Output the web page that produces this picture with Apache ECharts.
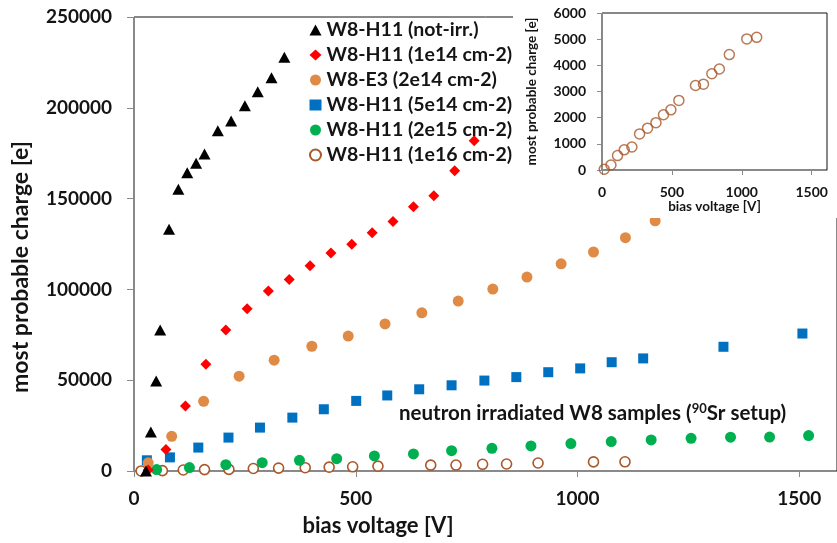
<!DOCTYPE html>
<html>
<head>
<meta charset="utf-8">
<script src="https://cdn.jsdelivr.net/npm/echarts@6/dist/echarts.min.js"></script>
<style>html,body{margin:0;padding:0;background:#fff}#c{width:837px;height:543px}</style>
</head>
<body>
<div id="c"></div>
<script>
// ---- data (bias voltage [V], most probable charge [e]) ----
const seriesNames = ['W8-H11 (not-irr.)','W8-H11 (1e14 cm-2)','W8-E3 (2e14 cm-2)','W8-H11 (5e14 cm-2)','W8-H11 (2e15 cm-2)','W8-H11 (1e16 cm-2)'];

const notIrrX = [27, 38, 50, 59, 79, 100, 120, 140, 159, 189, 219, 250, 279, 310, 339];
const notIrrY = [0, 21500, 49600, 77600, 133100, 155100, 164300, 169500, 174600, 187300, 192800, 201100, 208900, 216500, 227900];

const h1e14X = [32, 72, 116, 162, 207, 255, 303, 350, 397, 444, 491, 537, 584, 630, 676, 723, 767];
const h1e14Y = [500, 11800, 35800, 58800, 77600, 89300, 99100, 105500, 113000, 120000, 124800, 131200, 137400, 145500, 151600, 165400, 181900];

const e3X = [32, 85, 157, 237, 316, 401, 483, 566, 649, 731, 809, 886, 963, 1036, 1108, 1175];
const e3Y = [4500, 19100, 38400, 52200, 61000, 68700, 74300, 81000, 87100, 93600, 100200, 106800, 114100, 120600, 128500, 137800];

const h5e14X = [29, 81, 145, 213, 284, 357, 428, 501, 571, 643, 716, 790, 862, 934, 1006, 1077, 1148, 1329, 1507];
const h5e14Y = [5900, 7500, 12900, 18400, 23900, 29400, 34000, 38600, 41600, 45000, 47200, 49800, 51700, 54400, 56500, 59900, 62000, 68400, 75700];

const h2e15X = [51, 125, 207, 289, 373, 457, 542, 630, 716, 807, 895, 985, 1076, 1166, 1256, 1345, 1433, 1521];
const h2e15Y = [800, 1900, 3500, 4600, 5900, 6800, 8300, 9400, 11200, 12500, 13800, 15100, 16200, 17100, 18000, 18600, 18700, 19500];

const h1e16X = [16, 64, 111, 159, 214, 269, 326, 386, 440, 493, 550, 669, 726, 786, 840, 911, 1036, 1107];
const h1e16Y = [30, 190, 550, 770, 880, 1380, 1600, 1810, 2110, 2300, 2660, 3230, 3280, 3680, 3860, 4410, 5010, 5070];

const mainXTicks = [0, 500, 1000, 1500];
const mainYTicks = [0, 50000, 100000, 150000, 200000, 250000];
const insetXTicks = [0, 500, 1000, 1500];
const insetYTicks = [0, 1000, 2000, 3000, 4000, 5000, 6000];

const xTitle = 'bias voltage [V]';
const yTitle = 'most probable charge [e]';
const annotationMain = 'neutron irradiated W8 samples (';
const annotationSup = '90';
const annotationEnd = 'Sr setup)';

// ---- styling ----
const FONT = 'Lato';
const TXT = '#141414';
const AX = '#8a8a8a';
const colors = ['#000000', '#ff0000', '#df8a45', '#0070c0', '#00b050', '#a8582a'];

function zip(xs, ys) { return xs.map((x, i) => [x, ys[i]]); }

const chart = echarts.init(document.getElementById('c'), null, {renderer: 'canvas'});

const markerDefs = [
  {symbol: 'triangle', size: [12, 11], legend: 'triangle'},
  {symbol: 'diamond', size: 11, legend: 'diamond'},
  {symbol: 'circle', size: 11, legend: 'circle'},
  {symbol: 'rect', size: 10, legend: 'rect'},
  {symbol: 'circle', size: 11, legend: 'circle'},
  {symbol: 'circle', size: 10, legend: 'circle'}
];
const dataSets = [zip(notIrrX, notIrrY), zip(h1e14X, h1e14Y), zip(e3X, e3Y), zip(h5e14X, h5e14Y), zip(h2e15X, h2e15Y), zip(h1e16X, h1e16Y)];

const series = seriesNames.map((name, i) => {
  const hollow = i === 5;
  return {
    name: name,
    type: 'scatter',
    xAxisIndex: 0, yAxisIndex: 0,
    symbol: markerDefs[i].symbol,
    symbolSize: markerDefs[i].size,
    data: dataSets[i],
    z: 2 + (5 - i) * 0.01,
    itemStyle: hollow ? {color: '#ffffff', borderColor: colors[i], borderWidth: 1.6, opacity: 1}
                      : {color: colors[i], opacity: 1},
    emphasis: {disabled: true},
    animation: false
  };
});
series.push({
  name: 'inset',
  type: 'scatter',
  xAxisIndex: 1, yAxisIndex: 1,
  symbol: 'circle', symbolSize: 10,
  data: zip(h1e16X, h1e16Y),
  z: 30,
  itemStyle: {color: 'rgba(255,255,255,0)', borderColor: colors[5], borderWidth: 1.5},
  emphasis: {disabled: true},
  animation: false
});

const tickFmt = (list) => (v) => list.indexOf(v) >= 0 ? String(v) : '';

const option = {
  backgroundColor: '#ffffff',
  animation: false,
  textStyle: {fontFamily: FONT},
  grid: [
    {left: 134, top: 17, right: 0, bottom: 72, show: true, borderColor: '#111', borderWidth: 1, backgroundColor: 'transparent', containLabel: false},
    {left: 602, top: 13, right: 10, bottom: 373, show: true, borderColor: '#111', borderWidth: 1, backgroundColor: 'transparent', z: 20}
  ],
  xAxis: [
    {gridIndex: 0, type: 'value', min: 0, max: 1585, interval: 500,
     axisLine: {show: true, lineStyle: {color: AX, width: 1}},
     axisTick: {show: true, inside: false, length: 6, lineStyle: {color: AX}},
     splitLine: {show: false},
     axisLabel: {formatter: tickFmt(mainXTicks), margin: 18, color: TXT, fontFamily: FONT, fontWeight: 'bold', fontSize: 19, showMaxLabel: false}
    },
    {gridIndex: 1, type: 'value', min: 0, max: 1610, interval: 500, z: 20,
     axisLine: {show: true, lineStyle: {color: AX, width: 1}},
     axisTick: {show: true, inside: false, length: 5, lineStyle: {color: AX}},
     splitLine: {show: false},
     axisLabel: {formatter: tickFmt(insetXTicks), margin: 15, color: TXT, fontFamily: FONT, fontWeight: 'bold', fontSize: 14, showMaxLabel: false},
     name: xTitle, nameLocation: 'middle', nameGap: 30,
     nameTextStyle: {color: TXT, fontFamily: FONT, fontWeight: 'bold', fontSize: 13.5}
    }
  ],
  yAxis: [
    {gridIndex: 0, type: 'value', min: 0, max: 250000, interval: 50000,
     axisLine: {show: true, lineStyle: {color: AX, width: 1}},
     axisTick: {show: true, inside: false, length: 7, lineStyle: {color: AX}},
     splitLine: {show: false},
     axisLabel: {formatter: tickFmt(mainYTicks), margin: 22, color: TXT, fontFamily: FONT, fontWeight: 'bold', fontSize: 19}
    },
    {gridIndex: 1, type: 'value', min: 0, max: 6000, interval: 1000, z: 20,
     axisLine: {show: true, lineStyle: {color: AX, width: 1}},
     axisTick: {show: true, inside: false, length: 5, lineStyle: {color: AX}},
     splitLine: {show: false},
     axisLabel: {formatter: tickFmt(insetYTicks), margin: 16, color: TXT, fontFamily: FONT, fontWeight: 'bold', fontSize: 14},
     name: yTitle, nameLocation: 'middle', nameGap: 63, nameRotate: 90,
     nameTextStyle: {color: TXT, fontFamily: FONT, fontWeight: 'bold', fontSize: 13.5}
    }
  ],
  legend: {
    orient: 'vertical', left: 309, top: 20, padding: 0,
    itemWidth: 12, itemHeight: 11, itemGap: 5,
    selectedMode: false,
    data: seriesNames.map((n, i) => ({name: n, icon: markerDefs[i].legend})),
    textStyle: {color: TXT, fontFamily: FONT, fontWeight: 'bold', fontSize: 19.5, lineHeight: 20}
  },
  graphic: {elements: [
    {type: 'rect', z: 10, silent: true, shape: {x: 513, y: 0, width: 324, height: 218}, style: {fill: '#ffffff'}},
    {type: 'text', z: 12, silent: true, x: 378, y: 526,
     style: {text: xTitle, fill: TXT, font: 'bold 22px ' + FONT, align: 'center', verticalAlign: 'middle'}},
    {type: 'text', z: 12, silent: true, x: 21, y: 267, rotation: Math.PI / 2,
     style: {text: yTitle, fill: TXT, font: 'bold 23px ' + FONT, align: 'center', verticalAlign: 'middle'}},
    {type: 'text', z: 12, silent: true, x: 399, y: 413,
     style: {text: '{m|' + annotationMain + '}{s|' + annotationSup + '}{m|' + annotationEnd + '}',
       align: 'left', verticalAlign: 'middle',
       rich: {
         m: {fontFamily: FONT, fontWeight: 'bold', fontSize: 20.5, fill: TXT, color: TXT, lineHeight: 22, verticalAlign: 'bottom'},
         s: {fontFamily: FONT, fontWeight: 'bold', fontSize: 13, fill: TXT, color: TXT, lineHeight: 22, verticalAlign: 'top'}
       }}}
  ]},
  series: series
};
chart.setOption(option);
</script>
</body>
</html>
